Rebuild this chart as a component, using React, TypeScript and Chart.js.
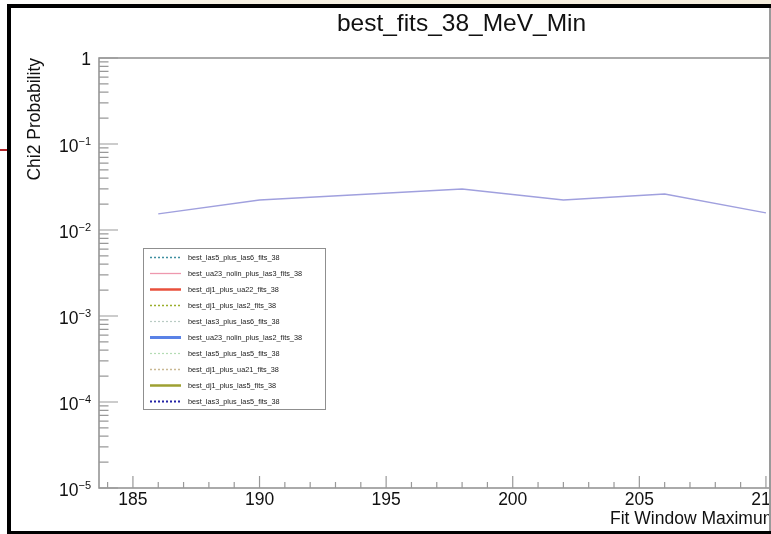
import React, { useEffect, useRef } from 'react';
import { Chart, registerables } from 'chart.js';

Chart.register(...registerables);

// ---- data ----
const fitWindowMax = [186, 190, 194, 198, 202, 206, 210];
const chi2Prob = [0.0154, 0.0223, 0.0259, 0.03, 0.0223, 0.0262, 0.0158];

const seriesNames = [
  'best_las5_plus_las6_fits_38',
  'best_ua23_nolin_plus_las3_fits_38',
  'best_dj1_plus_ua22_fits_38',
  'best_dj1_plus_las2_fits_38',
  'best_las3_plus_las6_fits_38',
  'best_ua23_nolin_plus_las2_fits_38',
  'best_las5_plus_las5_fits_38',
  'best_dj1_plus_ua21_fits_38',
  'best_dj1_plus_las5_fits_38',
  'best_las3_plus_las5_fits_38',
];
const seriesColors = [
  '#3f8fa0', '#ee98ae', '#e8503c', '#9aae2c', '#b9cbc4',
  '#5a82e6', '#b4dcb4', '#c9b994', '#9ea032', '#2424a6',
];
const seriesDashes = [
  [2, 2], [], [], [2, 2], [2, 2], [], [2, 2], [2, 2], [], [2, 2],
];
const seriesWidths = [1.5, 1.3, 2.5, 1.5, 1.2, 3, 1.2, 1.5, 2.5, 2];

const xTickValues = [185, 190, 195, 200, 205, 210];
const yTickExponents = [0, -1, -2, -3, -4, -5];
const titleText = 'best_fits_38_MeV_Min';
const xTitle = 'Fit Window Maximum';
const yTitle = 'Chi2 Probability';

const FONT = '"Liberation Sans", Arial, Helvetica, sans-serif';

const rootPlugin = {
  id: 'rootDecor',
  beforeDatasetsDraw(chart: any) {
    const ctx = chart.ctx;
    const { left, right, top, bottom } = chart.chartArea;
    const xs = chart.scales.x;
    const ys = chart.scales.y;
    ctx.save();
    ctx.strokeStyle = '#8f8f8f';
    ctx.lineWidth = 1.5;
    ctx.beginPath();
    ctx.moveTo(right + 2, top);
    ctx.lineTo(left, top);
    ctx.lineTo(left, bottom);
    ctx.lineTo(right + 2, bottom);
    ctx.stroke();
    ctx.strokeStyle = '#999999';
    ctx.lineWidth = 1.2;
    ctx.beginPath();
    // y ticks
    yTickExponents.forEach((e) => {
      const y = ys.getPixelForValue(Math.pow(10, e));
      ctx.moveTo(left, y);
      ctx.lineTo(left + 19, y);
      if (e < 0) {
        for (let m = 2; m <= 9; m++) {
          const ym = ys.getPixelForValue(m * Math.pow(10, e));
          ctx.moveTo(left, ym);
          ctx.lineTo(left + 9.5, ym);
        }
      }
    });
    // x ticks
    for (let v = Math.ceil(xs.min); v <= Math.floor(xs.max); v++) {
      const x = xs.getPixelForValue(v);
      const len = xTickValues.includes(v) ? 12 : 6;
      ctx.moveTo(x, bottom);
      ctx.lineTo(x, bottom - len);
    }
    ctx.stroke();
    ctx.restore();
  },
  afterDraw(chart: any) {
    const ctx = chart.ctx;
    const { left, top } = chart.chartArea;
    const ys = chart.scales.y;
    ctx.save();
    ctx.fillStyle = '#111';
    // y tick labels
    yTickExponents.forEach((e) => {
      const y = ys.getPixelForValue(Math.pow(10, e));
      const rx = left - 8;
      ctx.textAlign = 'right';
      ctx.textBaseline = 'alphabetic';
      if (e === 0) {
        ctx.font = `17.5px ${FONT}`;
        ctx.fillText('1', rx, y + 7);
      } else {
        const sup = '\u2212' + Math.abs(e);
        ctx.font = `11px ${FONT}`;
        const sw = ctx.measureText(sup).width;
        ctx.fillText(sup, rx, y + 1);
        ctx.font = `17.5px ${FONT}`;
        ctx.fillText('10', rx - sw, y + 8);
      }
    });
    // title
    ctx.font = `24.5px ${FONT}`;
    ctx.textAlign = 'center';
    ctx.textBaseline = 'alphabetic';
    ctx.fillText(titleText, 461.5, 31);
    // x title
    ctx.font = `17.5px ${FONT}`;
    ctx.textAlign = 'left';
    ctx.fillText(xTitle, 610, 524);
    // y title
    ctx.save();
    ctx.translate(39.5, top);
    ctx.rotate(-Math.PI / 2);
    ctx.textAlign = 'right';
    ctx.fillText(yTitle, 0, 0);
    ctx.restore();
    // legend
    const bx = left + 44;
    const by = top + 190;
    const bw = 182;
    const bh = 161;
    ctx.fillStyle = '#ffffff';
    ctx.fillRect(bx, by, bw, bh);
    ctx.strokeStyle = '#8f8f8f';
    ctx.lineWidth = 1;
    ctx.strokeRect(bx + 0.5, by + 0.5, bw, bh);
    const items = chart.data.datasets.filter((d: any) => d.inLegend);
    items.forEach((d: any, i: number) => {
      const cy = by + 9.5 + i * 16;
      ctx.save();
      ctx.strokeStyle = d.borderColor;
      ctx.lineWidth = d.borderWidth;
      ctx.setLineDash(d.borderDash || []);
      ctx.beginPath();
      ctx.moveTo(bx + 7, cy);
      ctx.lineTo(bx + 38, cy);
      ctx.stroke();
      ctx.restore();
      ctx.fillStyle = '#222';
      ctx.font = `7.3px ${FONT}`;
      ctx.textAlign = 'left';
      ctx.textBaseline = 'middle';
      ctx.fillText(d.label, bx + 45, cy);
    });
    ctx.restore();
  },
};

export default function App() {
  const ref = useRef<HTMLCanvasElement>(null);
  useEffect(() => {
    if (!ref.current) return;
    const datasets: any[] = [
      {
        label: titleText,
        data: fitWindowMax.map((x, i) => ({ x, y: chi2Prob[i] })),
        borderColor: '#a0a0de',
        borderWidth: 1.4,
        pointRadius: 0,
        fill: false,
        tension: 0,
        inLegend: false,
      },
      ...seriesNames.map((name, i) => ({
        label: name,
        data: [] as any[],
        borderColor: seriesColors[i],
        borderWidth: seriesWidths[i],
        borderDash: seriesDashes[i],
        pointRadius: 0,
        fill: false,
        inLegend: true,
      })),
    ];
    const chart = new Chart(ref.current, {
      type: 'line',
      data: { datasets },
      options: {
        responsive: false,
        animation: false,
        layout: { padding: { top: 58, left: 0, right: 0, bottom: 0 } },
        plugins: { legend: { display: false }, title: { display: false }, tooltip: { enabled: false } },
        scales: {
          x: {
            type: 'linear',
            min: 183.66,
            max: 210.2,
            grid: { display: false, drawTicks: false },
            border: { display: false },
            ticks: {
              autoSkip: false,
              maxRotation: 0,
              padding: 2,
              color: '#111',
              font: { size: 17.5, family: FONT },
              callback: (v: any) => String(v),
            },
            afterBuildTicks: (s: any) => {
              s.ticks = xTickValues.map((v) => ({ value: v }));
            },
            afterFit: (s: any) => {
              s.height = 46;
              s.paddingLeft = 0;
              s.paddingRight = 0;
            },
          },
          y: {
            type: 'logarithmic',
            min: 1e-5,
            max: 1,
            grid: { display: false, drawTicks: false },
            border: { display: false },
            ticks: { display: false },
            afterFit: (s: any) => {
              s.width = 99;
              s.paddingTop = 0;
              s.paddingBottom = 0;
            },
          },
        },
      } as any,
      plugins: [rootPlugin],
    });
    return () => chart.destroy();
  }, []);

  const abs = (s: React.CSSProperties): React.CSSProperties => ({ position: 'absolute', ...s });
  return (
    <div style={{ position: 'fixed', left: 0, top: 0, width: 771, height: 534, overflow: 'hidden', background: '#fff' }}>
      <canvas ref={ref} width={771} height={534} style={{ position: 'absolute', left: 0, top: 0 }} />
      <div style={abs({ left: 0, top: 0, width: 771, height: 4, background: 'linear-gradient(to right, #ffffff 0%, #f6f0e2 30%, #f4eddc 100%)' })} />
      <div style={abs({ left: 7, top: 4, width: 764, height: 4, background: '#000' })} />
      <div style={abs({ left: 7, top: 4, width: 4, height: 530, background: '#000' })} />
      <div style={abs({ left: 7, top: 531, width: 764, height: 3, background: '#000' })} />
      <div style={abs({ left: 0, top: 149, width: 7, height: 2, background: '#b3262b' })} />
      <div style={abs({ left: 769, top: 8, width: 2, height: 523, background: '#9a9a9a' })} />
    </div>
  );
}
